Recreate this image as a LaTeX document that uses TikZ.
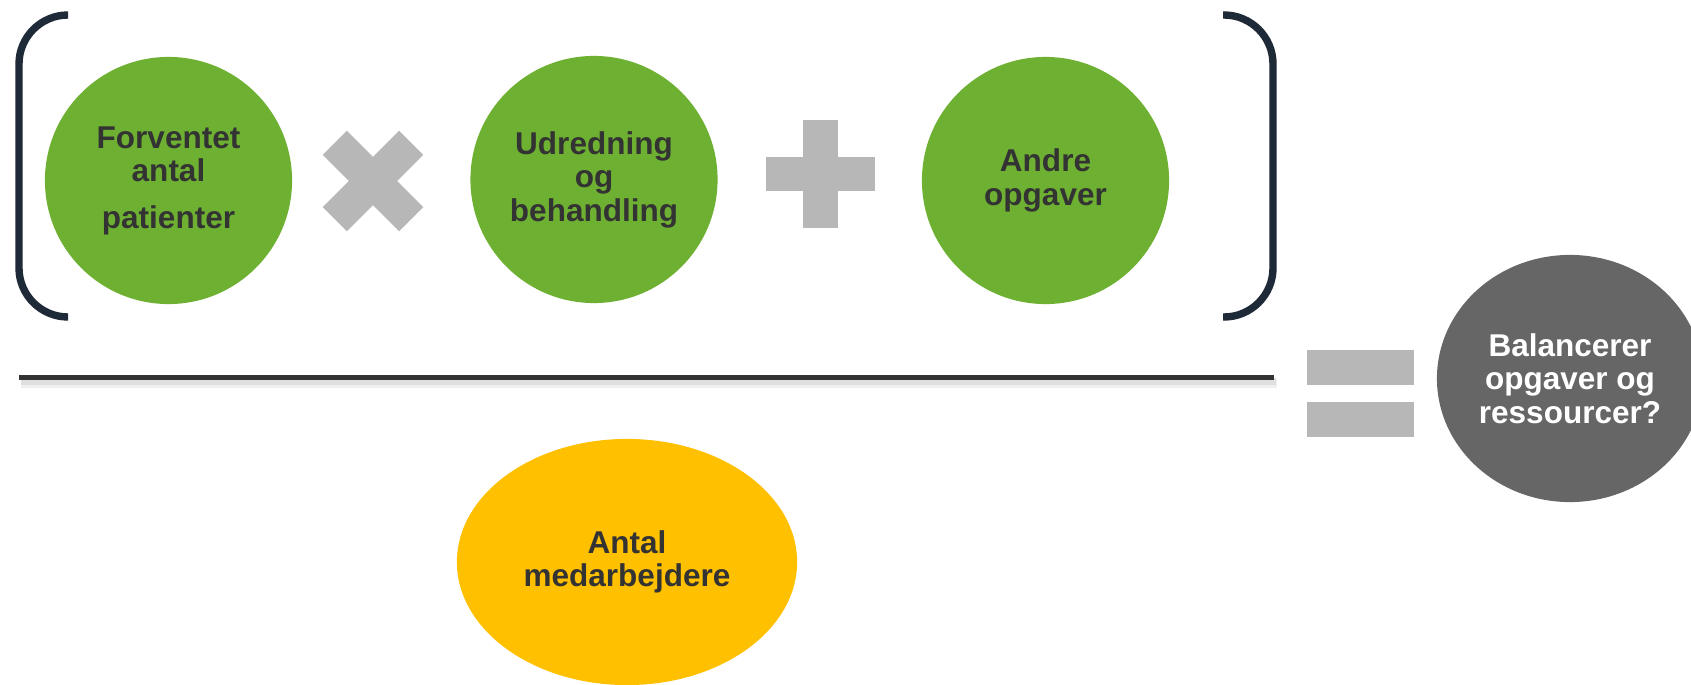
\documentclass[tikz,border=0pt]{standalone}
\usepackage{fontspec}
\setmainfont{Liberation Sans}
\usetikzlibrary{shapes.geometric}
\definecolor{dgreen}{HTML}{6EB132}
\definecolor{dyellow}{HTML}{FFC000}
\definecolor{dgrey}{HTML}{666666}
\definecolor{signgrey}{HTML}{B7B7B7}
\definecolor{navy}{HTML}{1F2A38}
\definecolor{txtgrey}{HTML}{333333}
\tikzset{
  lbl/.style={align=center, inner sep=0pt, outer sep=0pt,
    font=\fontsize{8.96pt}{9.53pt}\selectfont\bfseries},
  greencirc/.style={circle, fill=dgreen, minimum size=2.47cm, lbl, text=txtgrey},
  bracketline/.style={draw=navy, line width=2.1pt, rounded corners=0.49cm},
  sign/.style={fill=signgrey},
  xarm/.style={draw=signgrey, line width=0.34cm, line cap=butt},
}
\begin{document}
\begin{tikzpicture}[x=0.01cm, y=-0.01cm]
\useasboundingbox (0,0) rectangle (1691,685);
\clip (0,0) rectangle (1691,685);
\fill[white] (0,0) rectangle (1691,685);

% brackets
\draw[bracketline] (68,15) -- (19,15) -- (19,317) -- (68,317);
\draw[bracketline] (1223,15) -- (1273,15) -- (1273,317) -- (1223,317);

% green circles
\node[greencirc] (c1) at (168.5,180.5) {Forventet\\antal\\[0.13cm]patienter};
\node[greencirc] (c2) at (594,179.5) {Udredning\\og\\behandling};
\node[greencirc] (c3) at (1045.5,180.5) {Andre\\opgaver};

% multiply sign
\coordinate (xc) at (373,181);
\draw[xarm] ([shift={(-38.2,-38.2)}]xc) -- ([shift={(38.2,38.2)}]xc);
\draw[xarm] ([shift={(-38.2,38.2)}]xc) -- ([shift={(38.2,-38.2)}]xc);

% plus sign
\fill[sign] (766,157) rectangle (875,191);
\fill[sign] (803,120) rectangle (838,228);

% fraction line with shadow
\draw[line width=0.1cm, gray!12] (21,383) -- (1277,383);
\draw[line width=0.07cm, gray!25] (21,381.5) -- (1276,381.5);
\draw[line width=0.05cm, txtgrey] (19,377.5) -- (1274,377.5);

% equals sign
\fill[sign] (1307,350) rectangle (1414,385);
\fill[sign] (1307,402) rectangle (1414,437);

% result
\node[ellipse, fill=dgrey, minimum width=2.66cm, minimum height=2.47cm, lbl, text=white]
  (res) at (1570,378.5) {Balancerer\\opgaver og\\ressourcer?};

% staff
\node[ellipse, fill=dyellow, minimum width=3.40cm, minimum height=2.46cm, lbl, text=txtgrey]
  (staff) at (627,562) {Antal\\medarbejdere};
\end{tikzpicture}
\end{document}
